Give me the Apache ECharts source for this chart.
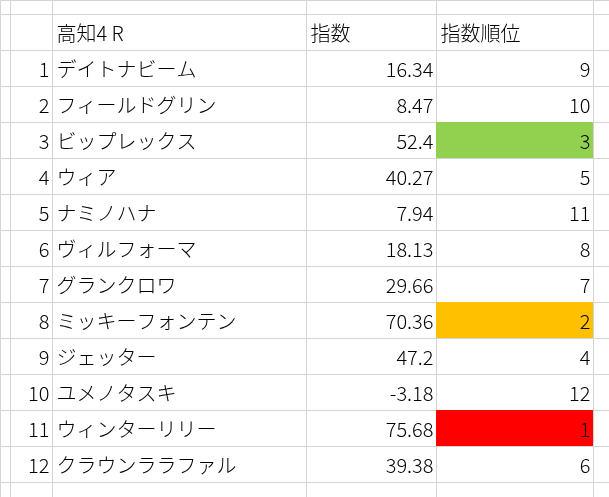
<!DOCTYPE html>
<html>
<head>
<meta charset="utf-8">
<script src="https://cdn.jsdelivr.net/npm/echarts@6/dist/echarts.min.js"></script>
<style>html,body{margin:0;padding:0;background:#fff}#main{width:609px;height:497px}</style>
</head>
<body>
<div id="main"></div>
<script>
var chart = echarts.init(document.getElementById('main'));

var title = '高知4 R';
var headers = ['指数', '指数順位'];
var horses = ['デイトナビーム', 'フィールドグリン', 'ビップレックス', 'ウィア', 'ナミノハナ', 'ヴィルフォーマ',
    'グランクロワ', 'ミッキーフォンテン', 'ジェッター', 'ユメノタスキ', 'ウィンターリリー', 'クラウンララファル'];
var scores = ['16.34', '8.47', '52.4', '40.27', '7.94', '18.13', '29.66', '70.36', '47.2', '-3.18', '75.68', '39.38'];
var ranks = [9, 10, 3, 5, 11, 8, 7, 2, 4, 12, 1, 6];
var rankColors = { 1: '#ff0000', 2: '#ffc000', 3: '#92d050' };

// sheet layout in pixels
var colEdges = [0, 10, 52, 306, 436, 593, 609];
function rowEdge(r) { return r === 0 ? 0 : Math.min(497, 14 + 36 * (r - 1)); }

function cellText(c, r) {
    if (r === 1) return c === 2 ? title : c === 3 ? headers[0] : c === 4 ? headers[1] : '';
    var i = r - 2;
    if (i < 0 || i >= horses.length) return '';
    if (c === 1) return String(i + 1);
    if (c === 2) return horses[i];
    if (c === 3) return scores[i];
    if (c === 4) return String(ranks[i]);
    return '';
}

var cells = [];
for (var r = 0; r < 15; r++) {
    for (var c = 0; c < 6; c++) cells.push([c, r]);
}

var option = {
    animation: false,
    grid: { left: 0, right: 0, top: 0, bottom: 0 },
    xAxis: { type: 'value', min: 0, max: 609, show: false },
    yAxis: { type: 'value', min: 0, max: 497, inverse: true, show: false },
    series: [{
        type: 'custom',
        data: cells,
        renderItem: function (params, api) {
            var c = api.value(0), r = api.value(1);
            var p0 = api.coord([colEdges[c], rowEdge(r)]);
            var p1 = api.coord([colEdges[c + 1], rowEdge(r + 1)]);
            var x0 = Math.round(p0[0]) + 0.5, y0 = Math.round(p0[1]) + 0.5;
            var x1 = Math.round(p1[0]) + 0.5, y1 = Math.round(p1[1]) + 0.5;
            var fill = '#fff';
            if (c === 4 && r >= 2 && r < 14) fill = rankColors[ranks[r - 2]] || '#fff';
            var txt = cellText(c, r);
            var left = (c === 2) || (r === 1);
            var children = [{
                type: 'rect',
                shape: { x: x0, y: y0, width: x1 - x0, height: y1 - y0 },
                style: { fill: fill, stroke: fill === '#fff' ? '#d4d4d4' : fill, lineWidth: 1 }
            }];
            if (fill !== '#fff') {
                children.push({ type: 'line', shape: { x1: x0, y1: y1, x2: x1, y2: y1 }, style: { stroke: '#d4d4d4' } });
            }
            if (txt) {
                children.push({
                    type: 'text',
                    style: {
                        text: txt,
                        x: left ? x0 + 4 : x1 - 3,
                        y: (y0 + y1) / 2 + 1,
                        align: left ? 'left' : 'right',
                        verticalAlign: 'middle',
                        fill: '#000',
                        font: '300 20px "Noto Sans CJK JP", sans-serif'
                    }
                });
            }
            return { type: 'group', children: children };
        }
    }]
};

chart.setOption(option);
</script>
</body>
</html>
